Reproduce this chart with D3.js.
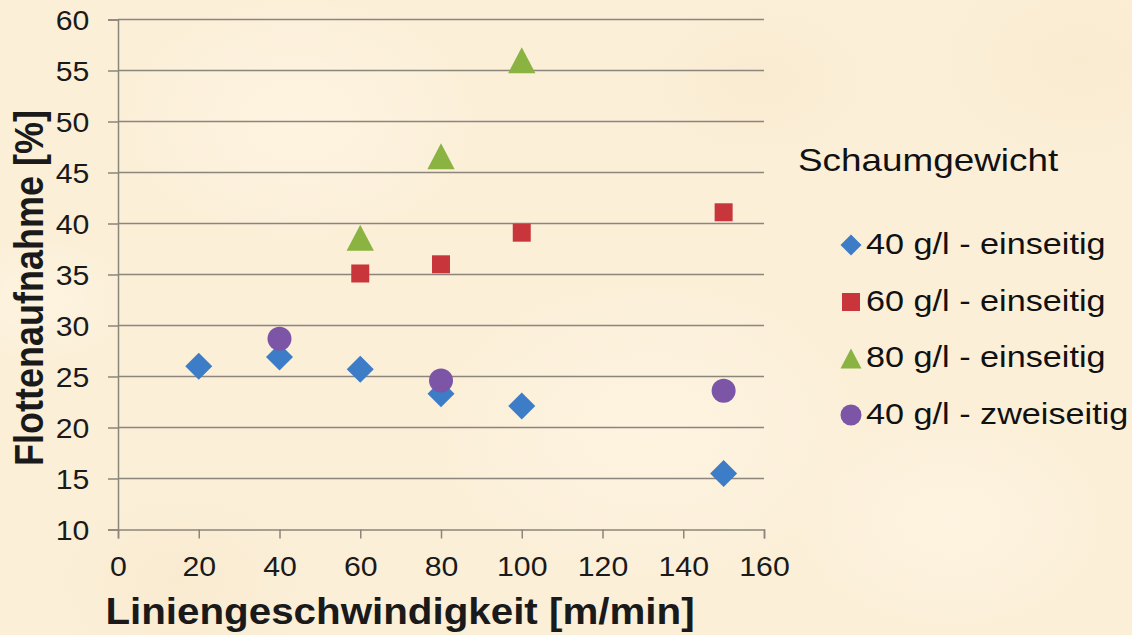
<!DOCTYPE html>
<html>
<head>
<meta charset="utf-8">
<script src="https://cdn.jsdelivr.net/npm/d3@7"></script>
<style>
  html, body { margin: 0; padding: 0; background: #fcf0d9; overflow: hidden; }
  svg { display: block; font-family: "Liberation Sans", Arial, sans-serif; }
</style>
</head>
<body>
<div id="chart"></div>
<script>
// Data
const diamond40 = [[20, 26.0], [40, 26.9], [60, 25.7], [80, 23.3], [100, 22.1], [150, 15.5]];
const square60 = [[60, 35.1], [80, 36.0], [100, 39.1], [150, 41.1]];
const triangle80 = [[60, 38.6], [80, 46.6], [100, 56.0]];
const circle40z = [[40, 28.7], [80, 24.6], [150, 23.6]];

const seriesNames = ["40 g/l - einseitig", "60 g/l - einseitig", "80 g/l - einseitig", "40 g/l - zweiseitig"];
const seriesColors = ["#3d7cc6", "#c8363b", "#8ab341", "#7c55a7"];
const seriesShapes = ["diamond", "square", "triangle", "circle"];
const xTicks = [0, 20, 40, 60, 80, 100, 120, 140, 160];
const yTicks = [10, 15, 20, 25, 30, 35, 40, 45, 50, 55, 60];

const width = 1132, height = 635;
const margin = { left: 118, top: 19.5, right: 368, bottom: 105.5 };
const innerWidth = width - margin.left - margin.right;
const innerHeight = height - margin.top - margin.bottom;
// the source picture is a bit wider than tall, so its text runs wide
const widen = (sel, stretch = 1.12) => sel.each(function () {
  const len = this.getComputedTextLength();
  d3.select(this).attr("textLength", len * stretch).attr("lengthAdjust", "spacingAndGlyphs");
});

const svg = d3.select("#chart")
  .append("svg")
    .attr("width", width)
    .attr("height", height);

// parchment background with a few soft blotches
const defs = svg.append("defs");
const blot = defs.append("radialGradient").attr("id", "blot");
blot.append("stop").attr("offset", "0%").attr("stop-color", "#fff7e6").attr("stop-opacity", 0.6);
blot.append("stop").attr("offset", "100%").attr("stop-color", "#fff7e6").attr("stop-opacity", 0);
const blotDark = defs.append("radialGradient").attr("id", "blotDark");
blotDark.append("stop").attr("offset", "0%").attr("stop-color", "#f7e7c9").attr("stop-opacity", 0.5);
blotDark.append("stop").attr("offset", "100%").attr("stop-color", "#f7e7c9").attr("stop-opacity", 0);
svg.append("rect").attr("width", width).attr("height", height).attr("fill", "#fbefd8");
[[300, 120, 180, "blot"], [650, 430, 220, "blot"], [950, 520, 160, "blot"], [40, 300, 90, "blot"],
 [180, 580, 140, "blotDark"], [1080, 60, 160, "blotDark"], [760, 80, 120, "blotDark"]].forEach(b => {
  svg.append("ellipse")
    .attr("cx", b[0]).attr("cy", b[1]).attr("rx", b[2]).attr("ry", b[2] * 0.7)
    .attr("fill", `url(#${b[3]})`);
});

const inner = svg.append("g")
  .attr("transform", `translate(${margin.left}, ${margin.top})`);

// Scales
const xScale = d3.scaleLinear().domain([0, 160]).range([0, innerWidth]);
const yScale = d3.scaleLinear().domain([10, 60]).range([innerHeight, 0]);

// Gridlines
inner.append("g")
  .selectAll("line")
  .data(yTicks.filter(t => t > 10))
  .join("line")
    .attr("x1", 0)
    .attr("x2", innerWidth)
    .attr("y1", d => yScale(d))
    .attr("y2", d => yScale(d))
    .attr("stroke", "#8c857b")
    .attr("stroke-width", 1.5);

// Axes
const leftAxis = d3.axisLeft(yScale).tickValues(yTicks).tickSize(10);
const yAxis = inner.append("g").call(leftAxis);
const bottomAxis = d3.axisBottom(xScale).tickValues(xTicks).tickSize(9);
const xAxis = inner.append("g").attr("transform", `translate(0, ${innerHeight})`).call(bottomAxis);

[yAxis, xAxis].forEach(ax => {
  ax.select(".domain").attr("stroke", "#8c857b").attr("stroke-width", 1.5);
  ax.selectAll(".tick line").attr("stroke", "#8c857b").attr("stroke-width", 1.5);
  ax.selectAll(".tick text")
    .attr("fill", "#1a1a1a")
    .attr("font-size", "27px")
    .attr("font-family", "'Liberation Sans', Arial, sans-serif")
    .call(widen);
});
yAxis.selectAll(".tick text").attr("x", -28.7).attr("dy", "0.36em");
xAxis.selectAll(".tick text").attr("y", 46.5).attr("dy", 0);

// Axis labels
svg.append("text")
  .text("Liniengeschwindigkeit [m/min]")
  .attr("x", 400)
  .attr("y", 624)
  .attr("text-anchor", "middle")
  .attr("font-size", "36px")
  .attr("font-weight", "bold")
  .attr("fill", "#1a1a1a")
  .call(widen);

svg.append("text")
  .text("Flottenaufnahme [%]")
  .attr("transform", "translate(43, 288) rotate(-90) scale(1, 1.12)")
  .attr("text-anchor", "middle")
  .attr("font-size", "36px")
  .attr("font-weight", "bold")
  .attr("fill", "#1a1a1a");

// Marker shapes, s = full size in px
const shapePath = (shape, s) => {
  const h = s / 2;
  if (shape === "diamond") return `M0,${-h}L${h},0L0,${h}L${-h},0Z`;
  if (shape === "square") return `M${-h},${-h}H${h}V${h}H${-h}Z`;
  if (shape === "triangle") return `M0,${-h}L${h * 1.05},${h}L${-h * 1.05},${h}Z`;
  return d3.arc()({ innerRadius: 0, outerRadius: h, startAngle: 0, endAngle: 2 * Math.PI });
};
const markerSize = { diamond: 27, square: 18, triangle: 26, circle: 24 };

const allSeries = [diamond40, square60, triangle80, circle40z];
allSeries.forEach((data, i) => {
  inner.selectAll(`.s${i}`)
    .data(data)
    .join("path")
      .attr("class", `s${i}`)
      .attr("transform", d => `translate(${xScale(d[0])}, ${yScale(d[1])})`)
      .attr("d", shapePath(seriesShapes[i], markerSize[seriesShapes[i]]))
      .attr("fill", seriesColors[i]);
});

// Legend
svg.append("text")
  .text("Schaumgewicht")
  .attr("x", 798)
  .attr("y", 171)
  .attr("font-size", "31.5px")
  .attr("fill", "#111")
  .call(widen, 1.17);

const legendY = [243, 300, 356.5, 413];
const legendSize = { diamond: 21, square: 18, triangle: 20, circle: 21 };
const legend = svg.append("g")
  .selectAll("g")
  .data(seriesNames)
  .join("g")
    .attr("transform", (d, i) => `translate(851, ${legendY[i]})`);
legend.append("path")
  .attr("transform", "translate(0, 2)")
  .attr("d", (d, i) => shapePath(seriesShapes[i], legendSize[seriesShapes[i]]))
  .attr("fill", (d, i) => seriesColors[i]);
legend.append("text")
  .text(d => d)
  .attr("x", 15)
  .attr("dy", "0.36em")
  .attr("font-size", "30px")
  .attr("fill", "#111")
  .call(widen, 1.14);
</script>
</body>
</html>
